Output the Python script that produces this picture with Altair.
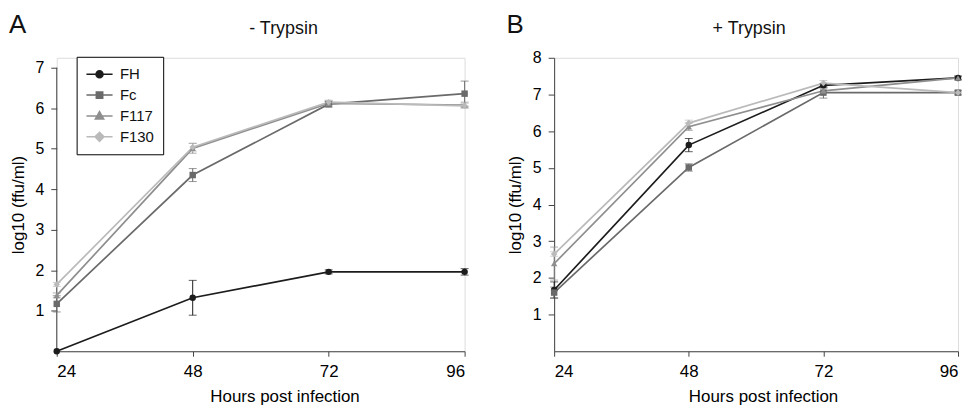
import altair as alt
import pandas as pd

hours = [24, 48, 72, 96]
series = ["FH", "Fc", "F117", "F130"]
colors = ["#1c1c1c", "#6a6a6a", "#8e8e8e", "#bababa"]
shapes = ["circle", "square", "triangle-up", "diamond"]

# Panel A (- Trypsin)
a_FH = [0.0, 1.32, 1.96, 1.96]
a_Fc = [1.17, 4.35, 6.10, 6.36]
a_F117 = [1.38, 5.01, 6.12, 6.08]
a_F130 = [1.65, 5.04, 6.15, 6.06]
a_err_FH = [0.0, 0.43, 0.05, 0.08]
a_err_Fc = [0.20, 0.16, 0.07, 0.31]
a_err_F117 = [0.06, 0.12, 0.06, 0.07]
a_err_F130 = [0.05, 0.10, 0.05, 0.06]

# Panel B (+ Trypsin)
b_FH = [1.67, 5.62, 7.25, 7.45]
b_Fc = [1.60, 5.01, 7.05, 7.05]
b_F117 = [2.39, 6.12, 7.10, 7.45]
b_F130 = [2.65, 6.22, 7.31, 7.05]
b_err_FH = [0.22, 0.18, 0.05, 0.05]
b_err_Fc = [0.15, 0.10, 0.15, 0.06]
b_err_F117 = [0.45, 0.10, 0.06, 0.05]
b_err_F130 = [0.06, 0.08, 0.07, 0.05]

# legend glyphs: line segment through the marker (custom symbol paths)
legend_paths = [
    "M-1.75,0H1.75M-0.47,0A0.47,0.47,0,1,1,0.47,0A0.47,0.47,0,1,1,-0.47,0Z",
    "M-1.75,0H1.75M-0.43,-0.43H0.43V0.43H-0.43Z",
    "M-1.75,0H1.75M0,-0.58L0.56,0.42H-0.56Z",
    "M-1.75,0H1.75M0,-0.6L0.6,0L0,0.6L-0.6,0Z",
]

FONT = "Liberation Sans"
AXIS_COLOR = "#444444"


def build_df(vals, errs):
    rows = []
    for s, v, e in zip(series, vals, errs):
        for h, vv, ee in zip(hours, v, e):
            rows.append({"series": s, "key": s, "hour": h, "value": vv,
                         "err": ee, "lo": vv - ee, "hi": vv + ee})
    return pd.DataFrame(rows)


dfA = build_df([a_FH, a_Fc, a_F117, a_F130], [a_err_FH, a_err_Fc, a_err_F117, a_err_F130])
dfB = build_df([b_FH, b_Fc, b_F117, b_F130], [b_err_FH, b_err_Fc, b_err_F117, b_err_F130])


def panel(df, ydom, ytop, ticks, letter, title, title_x, xtitle_x, manual_axis, legend):
    xenc = alt.X("hour:Q", scale=alt.Scale(domain=[24, 96], nice=False, zero=False),
                 axis=alt.Axis(values=hours, title="Hours post infection", grid=False,
                               tickSize=5, labelPadding=7, titlePadding=10,
                               titleX=xtitle_x, labelFontSize=17, titleFontSize=17,
                               titleFontWeight="normal",
                               domainColor=AXIS_COLOR, tickColor=AXIS_COLOR))
    yaxis = alt.Axis(values=ticks, title="log10 (ffu/ml)", grid=False, tickSize=6,
                     labelPadding=7, titlePadding=8, labelFontSize=16, titleFontSize=17,
                     titleFontWeight="normal",
                     domain=not manual_axis, domainColor=AXIS_COLOR, tickColor=AXIS_COLOR)
    yscale = alt.Scale(domain=[0, ydom], nice=False, zero=True)

    def Y(field):
        return alt.Y(f"{field}:Q", scale=yscale, axis=yaxis)

    col = alt.Color("series:N", scale=alt.Scale(domain=series, range=colors), legend=None)
    base = alt.Chart(df)
    errd = base.transform_filter("datum.err > 0")

    layers = []
    if manual_axis:
        axdf = pd.DataFrame({"hour": [24], "value": [0], "hi": [ytop]})
        layers.append(alt.Chart(axdf).mark_rule(color=AXIS_COLOR, strokeWidth=1)
                      .encode(x=xenc, y=Y("value"), y2="hi:Q"))
    layers += [
        errd.mark_rule(strokeWidth=1).encode(x=xenc, y=Y("lo"), y2="hi:Q", color=col),
        errd.mark_tick(orient="horizontal", size=8, thickness=1).encode(x=xenc, y=Y("lo"), color=col),
        errd.mark_tick(orient="horizontal", size=8, thickness=1).encode(x=xenc, y=Y("hi"), color=col),
        base.mark_line(strokeWidth=1.7).encode(x=xenc, y=Y("value"), color=col),
    ]
    for s, shp in zip(series, shapes):
        layers.append(
            base.transform_filter(alt.datum.series == s)
            .mark_point(filled=True, opacity=1, size=42, strokeWidth=0, shape=shp)
            .encode(x=xenc, y=Y("value"), color=col)
        )
    if legend:
        leg = alt.Legend(title=None, orient="none", legendX=20, legendY=-1, padding=9,
                         strokeColor="black", fillColor="white", labelFont=FONT,
                         labelFontSize=15, labelColor="#111111", rowPadding=4,
                         symbolOffset=5.5, labelOffset=12, symbolStrokeWidth=1.5,
                         symbolOpacity=1, symbolSize=225)
        layers.append(
            base.transform_filter("false").mark_point(filled=True, opacity=1, size=225, strokeWidth=1.5)
            .encode(x=xenc, y=Y("value"),
                    fill=alt.Fill("key:N", scale=alt.Scale(domain=series, range=colors), legend=leg),
                    stroke=alt.Stroke("key:N", scale=alt.Scale(domain=series, range=colors), legend=leg),
                    shape=alt.Shape("key:N", scale=alt.Scale(domain=series, range=legend_paths), legend=leg))
        )
    tdf = pd.DataFrame({"t": [letter]})
    layers.append(alt.Chart(tdf).mark_text(align="left", baseline="alphabetic", fontSize=26,
                                           font=FONT, color="#111111")
                  .encode(x=alt.value(-48), y=alt.value(-25), text="t:N"))
    tdf2 = pd.DataFrame({"t": [title]})
    layers.append(alt.Chart(tdf2).mark_text(align="center", baseline="alphabetic", fontSize=18,
                                            font=FONT, color="#111111")
                  .encode(x=alt.value(title_x), y=alt.value(-24), text="t:N"))
    return alt.layer(*layers)


A = panel(dfA, 7 * 295 / 285, 7, [1, 2, 3, 4, 5, 6, 7], "A", "- Trypsin", 228, 229, True, True) \
    .properties(width=410, height=295)
B = panel(dfB, 8, 8, [1, 2, 3, 4, 5, 6, 7, 8], "B", "+ Trypsin", 196, 210, False, False) \
    .properties(width=406, height=295)

chart = alt.hconcat(A, B, spacing=36).resolve_scale(color="independent") \
    .properties(padding={"left": 0, "top": 2, "right": 0, "bottom": 0}) \
    .configure_view(stroke=None) \
    .configure_axis(labelFont=FONT, titleFont=FONT, labelColor="#111111", titleColor="#111111",
                    titleFontWeight="normal") \
    .configure(background="white")

chart.save("out.html", embed_options={"renderer": "svg", "actions": False})
